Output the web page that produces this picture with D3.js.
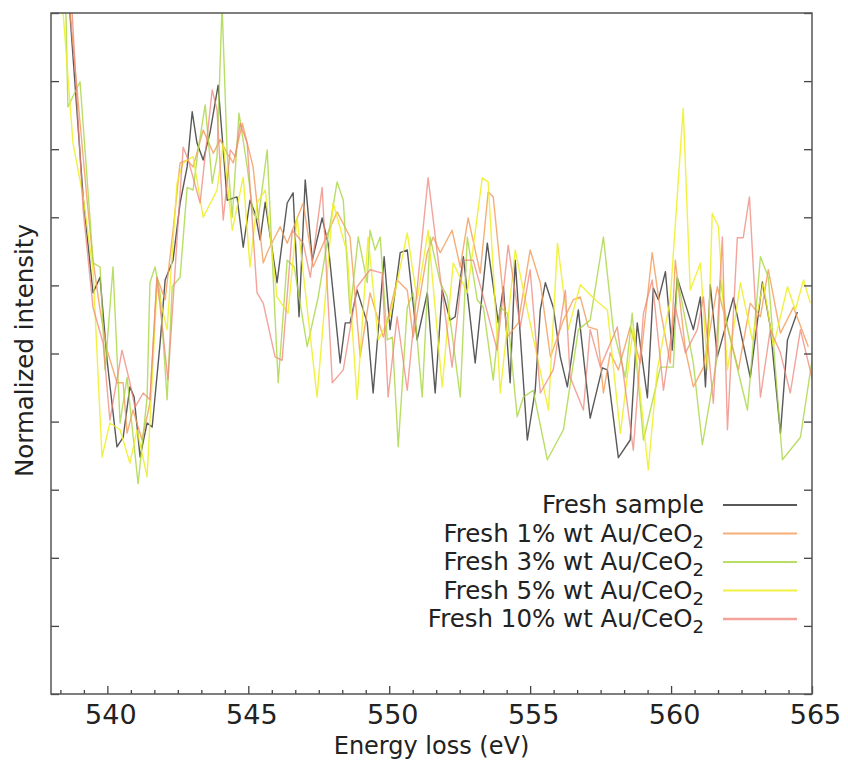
<!DOCTYPE html>
<html>
<head>
<meta charset="utf-8">
<script src="https://cdn.jsdelivr.net/npm/d3@7"></script>
<style>
  body { margin: 0; background: #fff; }
  text { font-family: "DejaVu Sans", sans-serif; fill: #222; }
</style>
</head>
<body>
<div id="chart"></div>
<script>
const width = 848
const height = 760
const margin = { top: 13, right: 36, bottom: 66, left: 51 }

// energies (eV) and normalized intensities
const freshE = [538.50,538.67,539.14,539.49,539.74,539.99,540.34,540.56,540.80,540.95,
  541.16,541.41,541.59,541.87,542.05,542.33,542.58,542.83,543.01,543.18,
  543.40,543.64,543.93,544.25,544.60,544.82,545.06,545.24,545.42,545.60,
  546.02,546.38,546.59,546.80,547.02,547.27,547.62,547.83,548.26,548.44,
  548.61,548.86,549.22,549.43,549.82,550.03,550.39,550.64,550.99,551.35,
  551.63,551.88,552.16,552.34,552.63,553.05,553.48,553.87,554.05,554.29,
  554.47,554.90,555.18,555.36,555.54,555.82,556.07,556.32,556.71,557.13,
  557.56,557.74,558.13,558.55,558.80,559.16,559.37,559.55,559.80,560.04,
  560.22,560.79,561.04,561.22,561.39,561.64,562.21,562.81,563.24,563.52,
  563.88,564.13,564.48]
const freshI = [10.84,10.00,7.30,5.89,6.12,4.90,3.63,3.77,4.51,4.36,
  3.48,3.98,3.92,5.15,6.08,6.37,7.21,7.74,8.55,8.09,
  7.84,8.24,8.94,7.25,7.30,6.56,7.25,7.06,6.67,7.22,
  6.04,7.21,7.36,5.54,7.55,6.37,6.99,6.62,4.86,5.45,
  5.45,5.93,5.45,4.42,6.42,5.35,6.48,6.52,5.20,5.89,
  4.42,5.93,5.49,5.54,6.42,4.86,6.62,5.45,5.98,4.57,
  6.37,3.73,4.46,5.64,6.04,5.68,4.95,4.51,5.64,4.05,
  4.79,4.76,3.47,3.73,5.45,4.35,5.96,5.79,6.20,5.05,
  6.11,5.35,5.83,4.51,6.01,4.95,5.82,4.65,6.05,5.39,
  3.83,5.20,5.61]

const au1E = [538.32,538.67,539.28,539.49,539.74,539.99,540.34,540.56,540.70,540.91,
  541.23,541.51,541.76,542.05,542.33,542.58,542.83,543.04,543.40,543.76,
  544.00,544.25,544.47,544.79,545.17,545.53,545.71,546.13,546.38,546.95,
  547.30,548.15,548.61,548.97,549.32,549.79,550.28,550.64,550.85,551.35,
  551.56,551.81,552.23,552.52,552.80,553.23,553.51,553.69,554.19,554.58,
  555.00,555.36,555.72,556.18,556.53,556.78,557.06,557.38,557.60,557.84,
  558.13,558.55,558.91,559.33,559.62,559.97,560.15,560.51,560.79,561.15,
  561.64,562.00,562.39,562.81,563.17,563.45,563.88,564.34,564.87]
const au1I = [10.73,10.04,7.25,6.37,5.64,5.05,4.57,4.57,3.83,4.17,
  3.73,4.27,6.12,5.79,6.81,7.80,7.84,7.74,8.28,7.94,
  8.14,7.94,7.80,8.38,7.74,6.33,6.52,6.86,6.62,7.21,
  6.27,7.08,6.71,4.95,5.89,5.24,6.08,5.93,5.24,6.48,
  6.71,6.48,6.81,6.27,6.99,6.18,7.37,7.30,5.24,5.45,
  6.52,6.04,4.95,5.49,5.79,5.83,5.39,5.35,4.42,5.01,
  4.76,5.39,4.86,6.48,5.64,4.86,6.37,5.05,4.51,4.80,
  5.98,5.39,4.76,5.74,5.54,6.23,5.30,5.68,5.10]

const au3E = [538.39,538.53,538.60,539.03,539.38,539.49,539.74,539.92,540.20,540.45,
  540.70,540.88,541.09,541.41,541.51,541.69,541.87,542.12,542.30,542.58,
  542.83,543.04,543.22,543.47,543.72,543.89,544.07,544.25,544.43,544.67,
  544.96,545.17,545.35,545.67,546.06,546.38,546.63,547.09,547.48,548.15,
  548.37,548.61,548.90,549.22,549.32,549.50,549.68,549.93,550.11,550.32,
  550.64,550.85,551.17,551.45,551.81,552.06,552.52,552.77,553.12,553.34,
  553.69,553.94,554.19,554.54,554.76,555.11,555.61,556.18,556.71,557.13,
  557.60,557.95,558.38,558.62,559.02,559.62,560.08,560.22,560.79,561.11,
  561.64,561.75,562.00,562.71,563.17,563.45,563.95,564.59,565.02]
const au3I = [10.88,10.00,8.62,8.99,7.00,6.33,6.27,4.76,6.27,3.98,
  4.65,3.92,3.09,4.36,6.04,6.27,5.89,4.32,5.98,6.12,
  7.44,7.40,7.99,8.65,7.50,7.89,10.12,7.94,7.00,8.53,
  7.74,7.06,6.96,7.99,4.57,6.37,6.27,5.10,5.83,7.52,
  7.25,5.59,6.71,6.04,6.81,6.52,6.71,5.20,5.24,3.63,
  5.68,5.89,4.36,6.71,6.04,5.83,4.36,6.71,5.79,5.68,
  4.61,5.68,5.59,4.07,4.36,4.46,3.44,3.88,5.35,5.49,
  6.71,5.35,4.65,5.59,3.73,4.80,4.80,6.12,4.86,3.66,
  4.95,6.08,5.39,4.17,6.42,6.12,3.44,3.77,4.95]

const au5E = [538.25,538.43,538.78,539.14,539.49,539.81,540.09,540.45,540.80,541.05,
  541.41,541.76,542.12,542.47,542.69,543.04,543.40,543.89,544.11,544.43,
  544.82,545.06,545.31,545.60,546.02,546.41,546.73,547.44,548.01,548.51,
  548.86,549.25,549.61,550.03,550.64,550.99,551.38,551.88,552.27,552.77,
  553.30,553.51,553.94,554.47,554.90,555.65,555.97,556.35,556.78,557.31,
  557.74,558.20,558.66,559.19,559.51,559.97,560.43,560.68,561.04,561.29,
  561.46,561.68,562.00,562.46,562.88,563.27,563.63,564.13,564.41,564.70,
  564.94]
const au5I = [10.88,10.00,8.09,7.30,6.23,3.48,3.98,3.88,3.39,3.88,
  3.19,5.98,5.35,7.50,7.80,7.89,7.00,7.40,8.09,6.81,
  7.59,6.27,7.21,7.40,5.83,5.59,7.00,4.36,7.21,6.48,
  4.32,6.71,5.20,5.54,6.77,5.79,6.81,4.51,6.33,5.89,
  7.58,7.52,4.42,6.52,5.64,4.17,6.62,5.35,6.01,5.79,
  5.64,3.83,5.39,3.29,4.76,5.79,8.60,5.93,6.33,4.76,
  7.06,6.86,4.76,6.04,5.20,6.04,5.10,5.98,5.64,6.08,
  5.74]

const au10E = [538.39,538.75,539.14,539.49,539.85,540.09,540.52,540.80,540.98,541.27,
  541.51,541.76,542.15,542.51,542.69,542.87,543.29,543.54,543.72,543.89,
  544.11,544.36,544.54,544.71,544.96,545.31,545.53,545.95,546.20,546.56,
  546.95,547.20,547.62,547.98,548.37,548.86,549.32,549.75,549.96,550.28,
  550.64,551.03,551.38,551.81,552.23,552.63,552.98,553.30,553.83,554.22,
  554.65,555.00,555.36,555.82,556.25,556.42,556.89,557.13,557.49,558.09,
  558.66,559.02,559.33,559.73,560.15,560.51,560.93,561.15,561.50,561.82,
  562.00,562.35,562.56,562.78,563.17,563.52,563.88,564.23,564.59,565.02]
const au10I = [10.88,10.00,7.11,5.68,5.15,4.02,5.05,4.57,4.21,4.42,
  4.32,6.12,4.61,6.92,8.03,7.84,7.21,8.18,8.87,8.58,
  6.96,7.99,7.89,8.38,8.09,5.89,5.74,4.95,4.90,6.81,
  6.62,6.12,7.44,4.57,4.76,5.98,6.23,6.18,4.36,5.54,
  4.46,6.12,7.58,6.12,4.80,6.37,6.37,5.89,5.05,6.59,
  5.39,6.23,4.42,4.76,5.93,4.65,4.17,5.35,4.80,5.39,
  3.58,5.59,6.08,4.46,5.68,5.01,5.35,5.83,4.27,6.71,
  3.88,6.70,6.70,7.30,4.36,5.35,5.01,4.42,5.35,4.61]

const seriesNames = ['Fresh sample', 'Fresh 1% wt Au/CeO', 'Fresh 3% wt Au/CeO', 'Fresh 5% wt Au/CeO', 'Fresh 10% wt Au/CeO']
const seriesSub = ['', '2', '2', '2', '2']
const seriesE = [freshE, au1E, au3E, au5E, au10E]
const seriesI = [freshI, au1I, au3I, au5I, au10I]
const xMajor = [540, 545, 550, 555, 560, 565]
const yTicks = [0, 1, 2, 3, 4, 5, 6, 7, 8, 9, 10]

// estilos
const colors = ['#303030', '#f39a55', '#a8d640', '#eeee22', '#ee857a']
const opac = [0.8, 0.8, 0.8, 0.85, 0.75]

const innerW = width - margin.left - margin.right
const innerH = height - margin.top - margin.bottom

const svg = d3.select('#chart').append('svg').attr('width', width).attr('height', height)
const g = svg.append('g').attr('transform', `translate(${margin.left}, ${margin.top})`)

const x = d3.scaleLinear().domain([538, 565]).range([0, innerW])
const y = d3.scaleLinear().domain([0, 10]).range([innerH, 0])

svg.append('defs').append('clipPath').attr('id', 'clip')
  .append('rect').attr('width', innerW).attr('height', innerH)

// lines
const line = d3.line().x(d => x(d[0])).y(d => y(d[1]))
const linesGroup = g.append('g').attr('clip-path', 'url(#clip)')
seriesE.forEach((es, i) => {
  linesGroup.append('path')
    .datum(d3.zip(es, seriesI[i]))
    .attr('fill', 'none')
    .attr('stroke', colors[i])
    .attr('stroke-opacity', opac[i])
    .attr('stroke-width', 1.4)
    .attr('stroke-linejoin', 'round')
    .attr('d', line)
})

// axes (ticks hacia dentro)
const minor = d3.range(-2, 31).filter(k => k % 6 !== 0).map(k => 540 + k * 5 / 6).filter(v => v > 538 && v < 565)
const xAxis = d3.axisBottom(x).tickValues(xMajor).tickSize(-8).tickPadding(11).tickFormat(d3.format('d'))
const xMinor = d3.axisBottom(x).tickValues(minor).tickSize(-4).tickFormat('')
const yLeft = d3.axisLeft(y).tickValues(yTicks).tickSize(-8).tickFormat('')
const yRight = d3.axisRight(y).tickValues(yTicks).tickSize(-8).tickFormat('')

const xg = g.append('g').attr('transform', `translate(0, ${innerH})`).call(xAxis)
const xm = g.append('g').attr('transform', `translate(0, ${innerH})`).call(xMinor)
const yl = g.append('g').call(yLeft)
const yr = g.append('g').attr('transform', `translate(${innerW}, 0)`).call(yRight)
;[xg, xm, yl, yr].forEach(a => {
  a.select('.domain').remove()
  a.selectAll('line').attr('stroke', '#444').attr('stroke-width', 1.3)
})
xg.selectAll('text').attr('font-size', 27).attr('dx', 3).style('font-family', 'DejaVu Sans').attr('fill', '#222')

// spines
g.append('rect').attr('width', innerW).attr('height', innerH)
  .attr('fill', 'none').attr('stroke', '#555').attr('stroke-width', 1.5)

// axis labels
svg.append('text')
  .attr('x', margin.left + innerW / 2).attr('y', 754)
  .attr('text-anchor', 'middle').attr('font-size', 24)
  .text('Energy loss (eV)')
svg.append('text')
  .attr('transform', `translate(33, ${margin.top + innerH / 2 - 3}) rotate(-90)`)
  .attr('text-anchor', 'middle').attr('font-size', 24.5)
  .text('Normalized intensity')

// legend
const legend = svg.append('g').attr('transform', 'translate(0, 505)')
seriesNames.forEach((name, i) => {
  const row = legend.append('g').attr('transform', `translate(0, ${i * 28.5})`)
  row.append('line').attr('x1', 723).attr('x2', 797)
    .attr('stroke', colors[i]).attr('stroke-opacity', opac[i])
    .attr('stroke-width', i === 4 ? 2.4 : 1.8)
  const t = row.append('text').attr('x', 704).attr('y', 8)
    .attr('text-anchor', 'end').attr('font-size', 24.5)
  t.append('tspan').text(name)
  if (seriesSub[i]) {
    t.append('tspan').attr('dy', 6).attr('font-size', 18).text(seriesSub[i])
  }
})
</script>
</body>
</html>
